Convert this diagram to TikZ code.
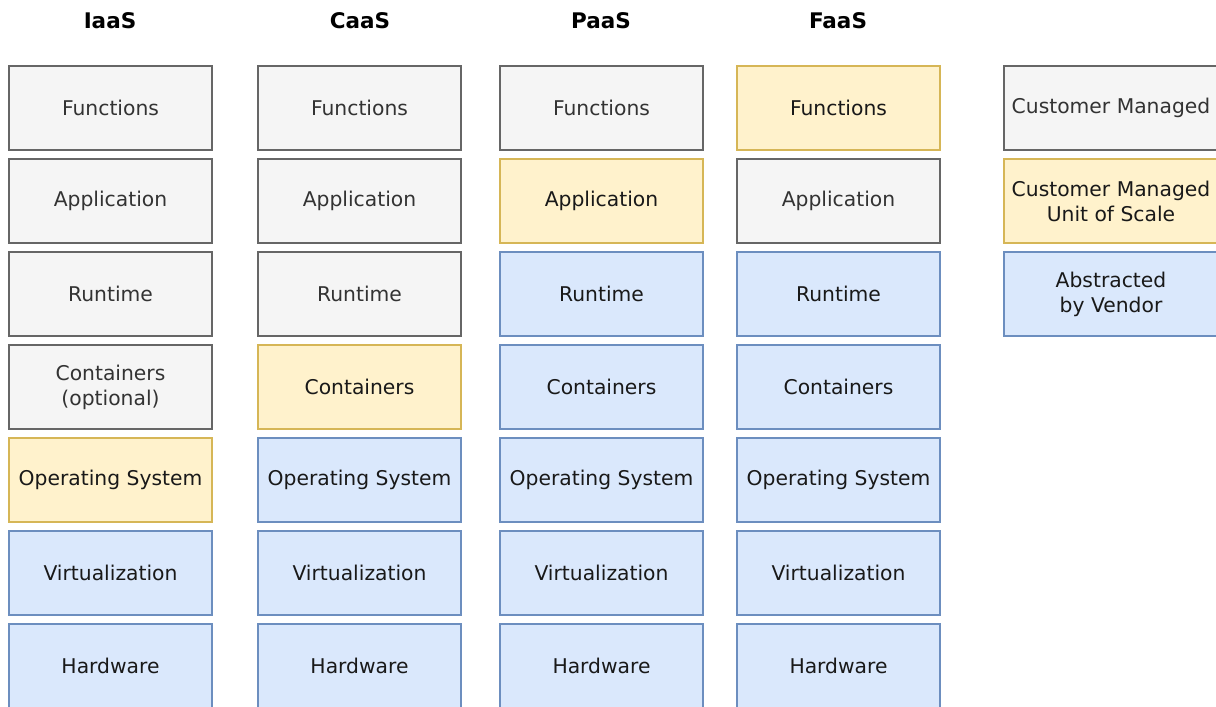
\documentclass[tikz,border=0pt]{standalone}
\usepackage{fontspec}
\setmainfont{DejaVu Sans}
\definecolor{grayfill}{HTML}{F5F5F5}
\definecolor{graydraw}{HTML}{666666}
\definecolor{graytext}{HTML}{333333}
\definecolor{yelfill}{HTML}{FFF2CC}
\definecolor{yeldraw}{HTML}{D6B656}
\definecolor{bluefill}{HTML}{DAE8FC}
\definecolor{bluedraw}{HTML}{6C8EBF}
\tikzset{
  x=1pt, y=-1pt,
  layer/.style={rectangle, minimum width=203pt, minimum height=84pt, line width=1.5pt,
    align=center, font=\fontsize{20.3}{25}\selectfont, inner sep=0pt, outer sep=0pt,
    anchor=north west},
  cust/.style={layer, fill=grayfill, draw=graydraw, text=graytext},
  unit/.style={layer, fill=yelfill, draw=yeldraw, text=black!90},
  vendor/.style={layer, fill=bluefill, draw=bluedraw, text=black!90},
  head/.style={font=\bfseries\fontsize{21.5}{25}\selectfont, text=black}
}
\begin{document}
\begin{tikzpicture}
\clip (0,0) rectangle (1216,707);
\fill[white] (0,0) rectangle (1216,707);

% column headings
\node[head] (hI) at (110,21) {IaaS};
\node[head] (hC) at (360,21) {CaaS};
\node[head] (hP) at (601,21) {PaaS};
\node[head] (hF) at (838,21) {FaaS};

% IaaS stack
\node[cust]   (i1) at (9,66)  {Functions};
\node[cust]   (i2) at (9,159) {Application};
\node[cust]   (i3) at (9,252) {Runtime};
\node[cust]   (i4) at (9,345) {Containers\\(optional)};
\node[unit]   (i5) at (9,438) {Operating System};
\node[vendor] (i6) at (9,531) {Virtualization};
\node[vendor] (i7) at (9,624) {Hardware};

% CaaS stack
\node[cust]   (c1) at (258,66)  {Functions};
\node[cust]   (c2) at (258,159) {Application};
\node[cust]   (c3) at (258,252) {Runtime};
\node[unit]   (c4) at (258,345) {Containers};
\node[vendor] (c5) at (258,438) {Operating System};
\node[vendor] (c6) at (258,531) {Virtualization};
\node[vendor] (c7) at (258,624) {Hardware};

% PaaS stack
\node[cust]   (p1) at (500,66)  {Functions};
\node[unit]   (p2) at (500,159) {Application};
\node[vendor] (p3) at (500,252) {Runtime};
\node[vendor] (p4) at (500,345) {Containers};
\node[vendor] (p5) at (500,438) {Operating System};
\node[vendor] (p6) at (500,531) {Virtualization};
\node[vendor] (p7) at (500,624) {Hardware};

% FaaS stack
\node[unit]   (f1) at (737,66)  {Functions};
\node[cust]   (f2) at (737,159) {Application};
\node[vendor] (f3) at (737,252) {Runtime};
\node[vendor] (f4) at (737,345) {Containers};
\node[vendor] (f5) at (737,438) {Operating System};
\node[vendor] (f6) at (737,531) {Virtualization};
\node[vendor] (f7) at (737,624) {Hardware};

% legend
\node[cust, minimum width=214pt]   (l1) at (1004,66)  {Customer Managed};
\node[unit, minimum width=214pt]   (l2) at (1004,159) {Customer Managed\\Unit of Scale};
\node[vendor, minimum width=214pt] (l3) at (1004,252) {Abstracted\\by Vendor};
\end{tikzpicture}
\end{document}
